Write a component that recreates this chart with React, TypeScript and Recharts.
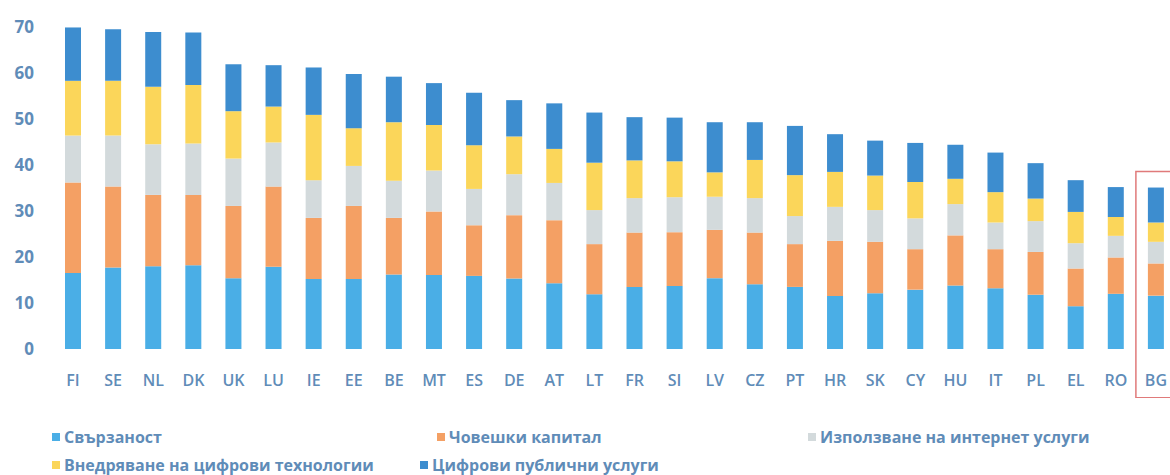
import { Bar, BarChart, ReferenceArea, XAxis, YAxis } from "recharts";

const countries = [
  "FI", "SE", "NL", "DK", "UK", "LU", "IE", "EE", "BE", "MT", "ES", "DE", "AT", "LT",
  "FR", "SI", "LV", "CZ", "PT", "HR", "SK", "CY", "HU", "IT", "PL", "EL", "RO", "BG",
];

const connectivity = [
  16.5, 17.7, 18.0, 18.2, 15.4, 17.9, 15.2, 15.2, 16.2, 16.1, 15.9, 15.3, 14.3, 11.9,
  13.5, 13.7, 15.4, 14.1, 13.5, 11.5, 12.1, 12.9, 13.8, 13.2, 11.8, 9.3, 12.0, 11.6,
];
const humanCapital = [
  19.7, 17.6, 15.5, 15.3, 15.7, 17.4, 13.3, 15.9, 12.3, 13.8, 11.0, 13.8, 13.7, 10.9,
  11.8, 11.7, 10.5, 11.2, 9.3, 12.0, 11.2, 8.8, 10.9, 8.5, 9.3, 8.2, 7.9, 7.0,
];
const internetUse = [
  10.2, 11.1, 11.0, 11.2, 10.3, 9.6, 8.2, 8.7, 8.1, 8.9, 7.9, 8.9, 8.1, 7.4,
  7.5, 7.6, 7.2, 7.5, 6.1, 7.4, 6.9, 6.7, 6.8, 5.8, 6.7, 5.5, 4.7, 4.7,
];
const digitalIntegration = [
  11.9, 11.9, 12.5, 12.7, 10.3, 7.8, 14.2, 8.2, 12.7, 9.9, 9.5, 8.2, 7.4, 10.3,
  8.2, 7.8, 5.3, 8.3, 8.9, 7.6, 7.5, 7.9, 5.5, 6.6, 4.9, 6.8, 4.1, 4.2,
];
const publicServices = [
  11.6, 11.2, 11.9, 11.4, 10.2, 9.0, 10.3, 11.8, 9.9, 9.1, 11.4, 7.9, 9.9, 10.9,
  9.4, 9.5, 10.9, 8.2, 10.7, 8.2, 7.6, 8.5, 7.4, 8.6, 7.7, 6.9, 6.5, 7.6,
];

const yTicks = [0, 10, 20, 30, 40, 50, 60, 70];

const series = [
  { key: "connectivity", name: "Свързаност", color: "#4aaee6" },
  { key: "humanCapital", name: "Човешки капитал", color: "#f4a064" },
  { key: "internetUse", name: "Използване на интернет услуги", color: "#d3dadc" },
  { key: "digitalIntegration", name: "Внедряване на цифрови технологии", color: "#fbd65a" },
  { key: "publicServices", name: "Цифрови публични услуги", color: "#3d8dcf" },
];

const data = countries.map((country, i) => ({
  country,
  connectivity: connectivity[i],
  humanCapital: humanCapital[i],
  internetUse: internetUse[i],
  digitalIntegration: digitalIntegration[i],
  publicServices: publicServices[i],
}));

const textColor = "#5f8cb8";
const font = "'Open Sans', sans-serif";

// legend positions follow the original two-row layout
const legendSlots = [
  { left: 52, top: 428 },
  { left: 437, top: 428 },
  { left: 808, top: 428 },
  { left: 52, top: 456 },
  { left: 420, top: 456 },
];

export default function App() {
  return (
    <div style={{ position: "relative", width: 1170, height: 475, overflow: "hidden", fontFamily: font }}>
      <style>{"body{margin:0}"}</style>
      <BarChart
        width={1188}
        height={398}
        data={data}
        margin={{ top: 27, right: 12, bottom: 0, left: 8 }}
        barSize={16}
      >
        <YAxis
          domain={[0, 70]}
          ticks={yTicks}
          width={45}
          axisLine={false}
          tickLine={false}
          tickMargin={13}
          tick={{ fill: textColor, fontSize: 17, fontWeight: 700, fontFamily: font }}
        />
        <XAxis
          dataKey="country"
          axisLine={false}
          tickLine={false}
          interval={0}
          tickMargin={20}
          height={49}
          tick={{ fill: textColor, fontSize: 16, fontWeight: 600, fontFamily: font }}
        />
        {series.map((s) => (
          <Bar
            key={s.key}
            dataKey={s.key}
            name={s.name}
            stackId="dei"
            fill={s.color}
            isAnimationActive={false}
          />
        ))}
        <ReferenceArea
          x1="BG"
          x2="BG"
          y1={-10.6}
          y2={38.6}
          ifOverflow="visible"
          fill="none"
          stroke="#e07a7a"
          strokeWidth={1.5}
        />
      </BarChart>
      {series.map((s, i) => (
        <div
          key={s.key}
          style={{
            position: "absolute",
            left: legendSlots[i].left,
            top: legendSlots[i].top,
            display: "flex",
            alignItems: "center",
            gap: 4,
            color: textColor,
            fontSize: 16,
            fontWeight: 700,
            whiteSpace: "nowrap",
            lineHeight: "18px",
          }}
        >
          <span style={{ width: 8, height: 8, background: s.color, display: "inline-block" }} />
          <span>{s.name}</span>
        </div>
      ))}
    </div>
  );
}
